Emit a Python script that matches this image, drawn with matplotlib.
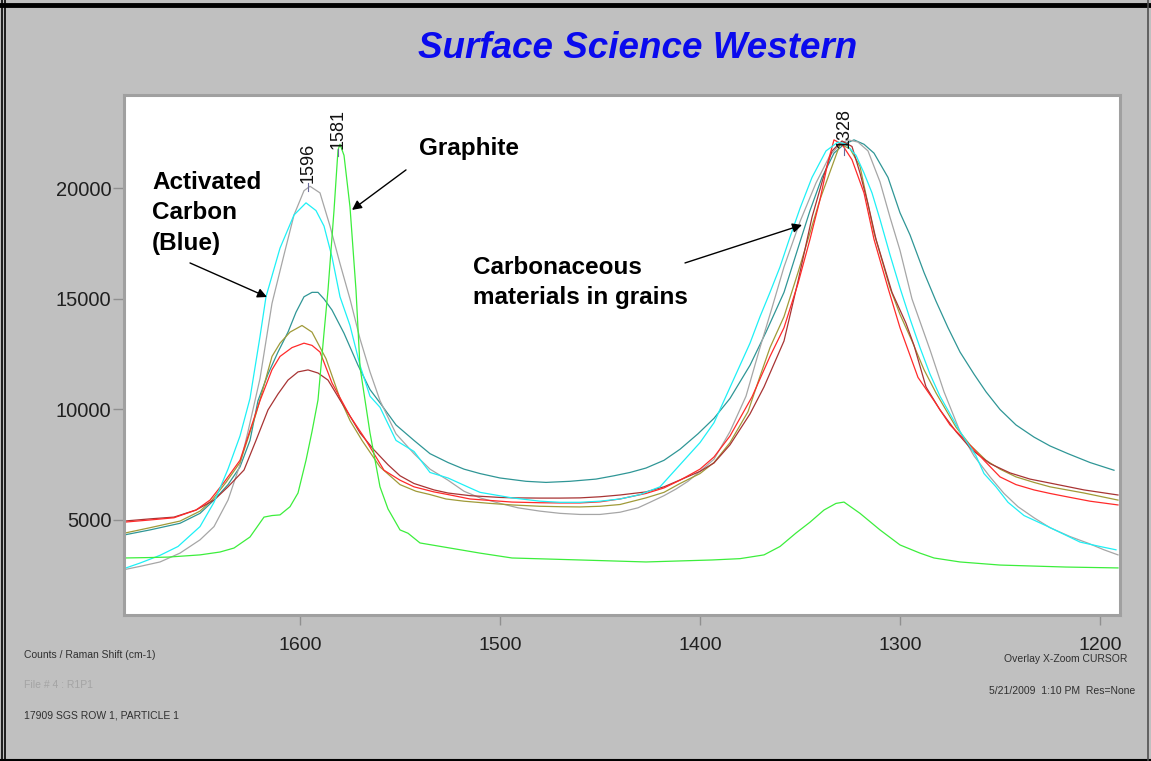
import matplotlib
matplotlib.use("Agg")
import matplotlib.pyplot as plt
from matplotlib.lines import Line2D

plt.rcParams['font.family'] = ['Liberation Sans', 'DejaVu Sans']

# ---------------- data (Raman shift cm-1, counts) ----------------
cyan_w = [1688,1680,1670,1661,1650,1643,1636,1630,1625,1620,1617,1610,1603,1597,1592,1588,1584,1580,1575,1570,1565,1560,1552,1543,1535,1526,1515,1510,1494,1480,1470,1460,1450,1440,1430,1420,1410,1400,1393,1384,1375,1370,1365,1360,1355,1350,1344,1337,1331,1327,1322,1318,1314,1310,1305,1300,1295,1290,1285,1280,1270,1262,1258,1252,1246,1238,1226,1218,1210,1200,1192]
cyan_v = [2800,3050,3400,3800,4700,5800,7300,8800,10500,13300,15100,17300,18800,19350,19000,18300,16900,15100,13800,12000,10600,10100,8600,8100,7150,6900,6450,6250,6000,5850,5800,5800,5850,5950,6150,6500,7500,8500,9400,11200,13000,14200,15300,16450,17800,19100,20500,21700,22100,22000,21500,20700,19800,18600,17000,15500,14100,12800,11600,10600,9000,7900,7100,6500,5800,5200,4700,4350,4000,3800,3650]

gray_w = [1688,1680,1670,1660,1650,1643,1636,1630,1626,1620,1614,1608,1603,1598,1595,1590,1585,1580,1575,1570,1565,1560,1552,1543,1535,1526,1518,1510,1500,1491,1480,1470,1460,1450,1440,1431,1425,1418,1412,1406,1400,1393,1385,1377,1370,1364,1358,1350,1342,1335,1330,1326,1321,1316,1310,1305,1300,1294,1285,1278,1270,1263,1255,1248,1241,1233,1225,1215,1206,1198,1191]
gray_v = [2750,2900,3100,3500,4100,4700,5900,7500,9000,11400,14800,17000,18800,19900,20100,19800,18300,16600,15000,13200,11700,10400,8900,8000,7300,6800,6300,6000,5750,5550,5400,5300,5250,5250,5350,5550,5800,6100,6400,6750,7200,7750,9000,10600,12800,14600,16450,18500,20250,21500,22000,22200,22100,21700,20300,18700,17200,15000,12700,10800,9000,7900,6950,6200,5600,5100,4650,4250,3950,3650,3420]

teal_w = [1688,1675,1660,1650,1643,1636,1630,1625,1621,1616,1611,1606,1602,1598,1594,1591,1588,1584,1578,1571,1565,1560,1552,1543,1535,1526,1518,1510,1500,1487,1477,1465,1452,1443,1435,1427,1418,1410,1401,1393,1385,1375,1367,1358,1351,1345,1339,1333,1328,1323,1318,1313,1306,1300,1295,1288,1282,1276,1270,1263,1257,1250,1242,1233,1225,1216,1205,1193]
teal_v = [4320,4550,4850,5300,5900,6600,7400,8600,10400,11600,12600,13500,14400,15100,15300,15300,15000,14500,13450,12000,10900,10300,9300,8600,8000,7600,7300,7100,6900,6750,6700,6750,6850,7000,7150,7350,7700,8200,8900,9600,10500,12000,13500,15300,17300,19000,20500,21600,22000,22200,22000,21600,20500,18900,17900,16200,14900,13700,12600,11600,10800,10000,9300,8750,8350,8000,7600,7250]

olive_w = [1688,1675,1660,1650,1644,1637,1630,1622,1614,1610,1605,1599,1594,1587,1580,1575,1569,1560,1550,1542,1535,1527,1518,1505,1494,1480,1470,1460,1450,1440,1427,1418,1410,1400,1393,1385,1376,1370,1365,1358,1351,1345,1340,1336,1330,1325,1320,1313,1305,1300,1294,1288,1282,1272,1265,1257,1250,1242,1233,1225,1208,1191]
olive_v = [4400,4650,4950,5400,5900,6700,7600,9800,12400,13000,13500,13800,13500,12300,10500,9500,8600,7400,6600,6300,6150,5950,5850,5750,5680,5620,5600,5590,5620,5700,6000,6250,6650,7100,7600,8500,9900,11500,12800,14200,16200,18000,19500,20500,22000,21800,21000,18000,15500,14300,13100,11800,10750,9200,8400,7700,7300,6950,6700,6500,6220,5900]

red_w = [1688,1675,1663,1652,1645,1638,1630,1620,1614,1610,1604,1598,1594,1590,1584,1575,1568,1558,1550,1543,1533,1526,1515,1500,1494,1480,1470,1460,1450,1440,1427,1418,1410,1400,1393,1385,1374,1365,1358,1351,1345,1340,1336,1333,1329,1324,1318,1313,1306,1300,1291,1283,1275,1266,1258,1250,1242,1233,1225,1216,1205,1191]
red_v = [4900,5000,5100,5450,5900,6700,7700,10400,11800,12400,12800,13000,12900,12600,11200,9700,8750,7250,6800,6500,6270,6150,5950,5850,5810,5780,5770,5770,5820,5950,6200,6450,6800,7300,7850,8800,10570,12400,13700,15700,17700,19500,21200,22200,22000,21300,19800,17700,15500,13700,11450,10400,9300,8480,7700,6950,6600,6360,6200,6040,5850,5680]

maroon_w = [1688,1675,1663,1652,1643,1636,1628,1622,1616,1611,1606,1601,1596,1591,1586,1580,1575,1570,1563,1556,1550,1543,1533,1526,1515,1500,1493,1480,1470,1460,1450,1440,1427,1418,1410,1400,1393,1385,1375,1368,1358,1351,1344,1338,1334,1329,1324,1320,1316,1312,1304,1297,1293,1287,1280,1272,1264,1255,1245,1235,1225,1208,1191]
maroon_v = [4950,5050,5130,5450,5900,6500,7260,8600,9980,10700,11330,11700,11790,11650,11330,10430,9700,8940,8170,7500,7000,6650,6360,6220,6100,6020,6000,5990,5990,6000,6050,6130,6270,6500,6810,7200,7580,8400,9800,11020,13100,15800,18700,20600,21700,22150,21900,20700,19300,17700,15300,13900,12900,11020,9980,9000,8170,7550,7130,6850,6670,6360,6130]

green_w = [1688,1675,1666,1650,1640,1633,1625,1618,1614,1610,1605,1601,1597,1594,1591,1588,1586,1583,1581,1580,1578,1575,1572,1570,1565,1560,1556,1550,1546,1540,1525,1510,1494,1460,1427,1394,1380,1368,1360,1352,1345,1338,1332,1328,1320,1310,1300,1290,1283,1270,1250,1217,1191]
green_v = [3280,3300,3320,3420,3550,3730,4230,5130,5200,5230,5600,6220,7700,9000,10430,13460,15400,19000,21740,22000,21500,19160,15400,11920,8940,6500,5500,4550,4400,3960,3730,3500,3280,3190,3100,3190,3250,3420,3800,4410,4900,5450,5750,5810,5300,4550,3870,3500,3280,3100,2960,2870,2830]

x_ticks = [1600, 1500, 1400, 1300, 1200]
y_ticks = [5000, 10000, 15000, 20000]
peak_labels = [1596, 1581, 1328]
peak_heights = [20250, 21800, 21850]

series = [
    (teal_w, teal_v, '#2f9696'),
    (gray_w, gray_v, '#a6a6a6'),
    (olive_w, olive_v, '#a09a38'),
    (maroon_w, maroon_v, '#a83434'),
    (red_w, red_v, '#ff2a2a'),
    (cyan_w, cyan_v, '#1ef0f6'),
    (green_w, green_v, '#3cee3c'),
]

# ---------------- figure ----------------
W, H = 1151, 761
fig = plt.figure(figsize=(W/100, H/100), dpi=100, facecolor='#c0c0c0')

def fx(px):
    return px / W
def fy(py):
    return 1 - py / H

# window frame
fig.add_artist(Line2D([fx(0), fx(W)], [fy(5), fy(5)], color='black', lw=3.5))
fig.add_artist(Line2D([fx(1.5), fx(1.5)], [fy(0), fy(H)], color='black', lw=1.2))
fig.add_artist(Line2D([fx(4.5), fx(4.5)], [fy(0), fy(H)], color='black', lw=1.2))
fig.add_artist(Line2D([fx(0), fx(W)], [fy(759.5), fy(759.5)], color='black', lw=1.5))
fig.add_artist(Line2D([fx(1148), fx(1148)], [fy(0), fy(H)], color='#505050', lw=1.2))

ax = fig.add_axes([fx(124), fy(615), fx(1120) - fx(124), fy(95) - fy(615)])
ax.set_facecolor('white')
for w, v, c in series:
    ax.plot(w, v, color=c, lw=0.9)

ax.set_xlim(1688, 1190)
ax.set_ylim(700, 24230)
ax.set_xticks(x_ticks)
ax.set_yticks(y_ticks)
ax.set_xticklabels([str(t) for t in x_ticks])
ax.set_yticklabels([str(t) for t in y_ticks])
ax.tick_params(axis='x', direction='out', length=7, width=1, color='#909090',
               labelsize=14, labelcolor='#202020', pad=9)
ax.tick_params(axis='y', direction='out', length=8, width=1, color='#909090',
               labelsize=14.5, labelcolor='#202020', pad=1)
for s in ax.spines.values():
    s.set_color('#a0a0a0')
    s.set_linewidth(2.2)

# peak labels
for pk, ph in zip(peak_labels, peak_heights):
    ax.text(pk, ph, str(pk), rotation=90, ha='center', va='bottom',
            fontsize=13, color='#111111', clip_on=False)
    ax.plot([pk, pk], [ph - 350, ph], color='#6a6a9a', lw=0.8)

# annotations
bold = dict(fontsize=17.5, fontweight='bold', color='black')
ax.text(1674, 20800, 'Activated\nCarbon\n(Blue)', ha='left', va='top',
        linespacing=1.42, **bold)
ax.text(1540.5, 21830, 'Graphite', ha='left', va='center', **bold)
ax.text(1513.5, 16950, 'Carbonaceous\nmaterials in grains', ha='left', va='top',
        linespacing=1.38, **bold)
arrow = dict(arrowstyle='-|>', color='black', lw=1.0, mutation_scale=14,
             shrinkA=0, shrinkB=0)
ax.annotate('', xy=(1616.5, 15090), xytext=(1655, 16630), arrowprops=arrow)
ax.annotate('', xy=(1574, 19030), xytext=(1547, 20840), arrowprops=arrow)
ax.annotate('', xy=(1349, 18350), xytext=(1407.5, 16630), arrowprops=arrow)

# title and footer
fig.text(fx(638), fy(48), 'Surface Science Western', ha='center', va='center',
         fontsize=26.5, fontweight='bold', fontstyle='italic', color='#0a0aee')
small = dict(fontsize=7.5, va='center')
fig.text(fx(24), fy(655), 'Counts / Raman Shift (cm-1)', ha='left', color='#303030', **small)
fig.text(fx(24), fy(685), 'File # 4 : R1P1', ha='left', color='#a4a4a4', **small)
fig.text(fx(24), fy(716), '17909 SGS ROW 1, PARTICLE 1', ha='left', color='#303030', **small)
fig.text(fx(1127), fy(659), 'Overlay X-Zoom CURSOR', ha='right', color='#303030', **small)
fig.text(fx(1135), fy(691), '5/21/2009  1:10 PM  Res=None', ha='right', color='#303030', **small)

fig.savefig('out.png', dpi=100, facecolor=fig.get_facecolor())
